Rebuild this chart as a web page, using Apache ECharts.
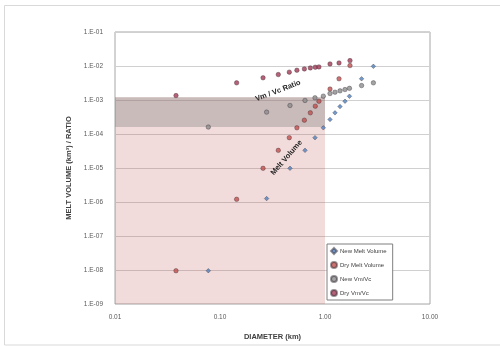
<!DOCTYPE html>
<html>
<head>
<meta charset="utf-8">
<script src="https://cdn.jsdelivr.net/npm/echarts@6/dist/echarts.min.js"></script>
<style>html,body{margin:0;padding:0;background:#fff;}#c{width:500px;height:346px;}</style>
</head>
<body>
<div id="c"></div>
<script>
// ---- data ----
var newDiam = [0.0774, 0.278, 0.464, 0.645, 0.803, 0.964, 1.116, 1.245, 1.39, 1.55, 1.71, 2.23, 2.89];
var newMelt = [9.5e-9, 1.26e-6, 9.8e-6, 3.3e-5, 7.8e-5, 1.52e-4, 2.68e-4, 4.2e-4, 6.4e-4, 9.2e-4, 1.29e-3, 4.2e-3, 9.8e-3];
var newRatio = [1.6e-4, 4.4e-4, 6.9e-4, 9.7e-4, 1.16e-3, 1.3e-3, 1.55e-3, 1.7e-3, 1.86e-3, 2.03e-3, 2.2e-3, 2.66e-3, 3.2e-3];

var dryDiam = [0.0381, 0.144, 0.257, 0.359, 0.457, 0.54, 0.636, 0.725, 0.808, 0.875, 1.116, 1.36, 1.73];
var dryMelt = [9.5e-9, 1.2e-6, 9.8e-6, 3.3e-5, 7.8e-5, 1.52e-4, 2.55e-4, 4.2e-4, 6.6e-4, 9.2e-4, 2.1e-3, 4.2e-3, 1.03e-2];
var dryRatio = [1.35e-3, 3.2e-3, 4.5e-3, 5.6e-3, 6.6e-3, 7.5e-3, 8.2e-3, 8.8e-3, 9.2e-3, 9.4e-3, 1.15e-2, 1.23e-2, 1.44e-2];

var seriesNames = ['New Melt Volume', 'Dry Melt Volume', 'New Vm/Vc', 'Dry Vm/Vc'];
var xTicks = [0.01, 0.1, 1, 10];
var yTickExps = [-1, -2, -3, -4, -5, -6, -7, -8, -9];

// shaded zones (data coordinates)
var pinkZone = {xFrom: 0.01, xTo: 1.0, yFrom: 1e-9, yTo: 1.2e-3};
var grayZone = {xFrom: 0.01, xTo: 1.0, yFrom: 1.6e-4, yTo: 1.2e-3};

// annotations (data coordinates)
var annotations = [
  {text: 'Vm / Vc Ratio', x: 0.357, y: 1.86e-3, angle: 21},
  {text: 'Melt Volume', x: 0.43, y: 2.0e-5, angle: 49}
];

function pairs(xs, ys) { return xs.map(function (x, i) { return [x, ys[i]]; }); }

var FONT = '"Liberation Sans", Arial, sans-serif';
var colors = ['#4F81BD', '#C0504D', '#8c8c8c', '#a33a55'];
var symbols = ['diamond', 'circle', 'circle', 'circle'];
var dataSets = [pairs(newDiam, newMelt), pairs(dryDiam, dryMelt), pairs(newDiam, newRatio), pairs(dryDiam, dryRatio)];

var chart = echarts.init(document.getElementById('c'), null, {renderer: 'canvas'});

var series = seriesNames.map(function (n, i) {
  return {
    name: n, type: 'scatter', data: dataSets[i], symbol: symbols[i], symbolSize: 4.5,
    itemStyle: {color: colors[i], borderColor: 'rgba(40,30,40,0.6)', borderWidth: 0.7}, z: 5
  };
});
series.push({
  type: 'scatter', data: [], silent: true, z: 1,
  markArea: {
    silent: true,
    data: [
      [{xAxis: pinkZone.xFrom, yAxis: pinkZone.yFrom, itemStyle: {color: 'rgba(192,80,77,0.2)'}}, {xAxis: pinkZone.xTo, yAxis: pinkZone.yTo}],
      [{xAxis: grayZone.xFrom, yAxis: grayZone.yFrom, itemStyle: {color: 'rgba(120,120,120,0.33)'}}, {xAxis: grayZone.xTo, yAxis: grayZone.yTo}]
    ]
  }
});

var option = {
  animation: false,
  backgroundColor: '#fff',
  textStyle: {fontFamily: FONT},
  grid: {left: 115, right: 70, top: 32, bottom: 41, show: true, borderColor: '#a6a6a6', borderWidth: 1},
  legend: {
    data: seriesNames, orient: 'vertical', left: 327, top: 244,
    itemWidth: 6, itemHeight: 6, itemGap: 6, padding: [3, 6, 3, 3],
    backgroundColor: '#fff', borderColor: '#7f7f7f', borderWidth: 1,
    textStyle: {fontSize: 6, color: '#404040', fontFamily: FONT, padding: [0, 0, 0, -2]}
  },
  xAxis: {
    type: 'log', logBase: 10, min: xTicks[0], max: xTicks[xTicks.length - 1],
    name: 'DIAMETER (km)', nameLocation: 'middle', nameGap: 29,
    nameTextStyle: {fontSize: 7.5, fontWeight: 'bold', color: '#404040', fontFamily: FONT},
    axisLine: {show: false}, axisTick: {show: false},
    splitLine: {show: false}, minorTick: {show: false},
    axisLabel: {fontSize: 6.5, color: '#595959', margin: 10, fontFamily: FONT,
      formatter: function (v) { return Number(v).toFixed(2); }}
  },
  yAxis: {
    type: 'log', logBase: 10, min: Math.pow(10, yTickExps[yTickExps.length - 1]), max: Math.pow(10, yTickExps[0]),
    name: 'MELT VOLUME (km³) / RATIO', nameLocation: 'middle', nameGap: 38, nameRotate: 90,
    nameTextStyle: {fontSize: 7.5, fontWeight: 'bold', color: '#404040', fontFamily: FONT},
    axisLine: {show: false}, axisTick: {show: false},
    splitLine: {show: true, lineStyle: {color: '#d0d0d0', width: 1}},
    axisLabel: {fontSize: 6.5, color: '#595959', margin: 12, fontFamily: FONT,
      formatter: function (v) {
        var e = Math.round(Math.log10(v));
        return '1.E' + (e < 0 ? '-' : '+') + String(Math.abs(e)).padStart(2, '0');
      }}
  },
  graphic: [{
    type: 'rect', shape: {x: 4.5, y: 5.5, width: 520, height: 339.5},
    style: {fill: 'none', stroke: '#d9d9d9', lineWidth: 1}, silent: true, z: -10
  }],
  series: series
};
chart.setOption(option);

var annGraphics = annotations.map(function (a) {
  var p = chart.convertToPixel({gridIndex: 0}, [a.x, a.y]);
  return {
    type: 'text', x: p[0], y: p[1], rotation: a.angle * Math.PI / 180, z: 20,
    style: {text: a.text, fill: '#262626', font: 'bold 7.5px ' + FONT, align: 'center', verticalAlign: 'middle'}
  };
});
chart.setOption({graphic: option.graphic.concat(annGraphics)});
</script>
</body>
</html>
